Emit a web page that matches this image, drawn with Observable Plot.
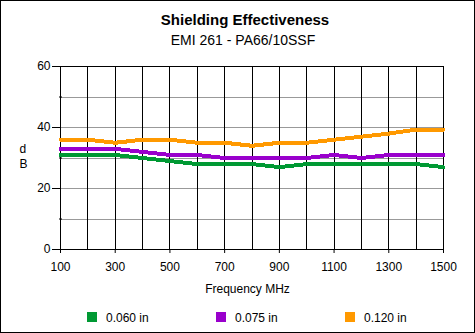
<!DOCTYPE html>
<html><head><meta charset="utf-8">
<script src="https://cdn.jsdelivr.net/npm/d3@7"></script>
<script src="https://cdn.jsdelivr.net/npm/@observablehq/plot@0.6"></script>
<style>
body{margin:0;background:#fff;font-family:"Liberation Sans",Arial,sans-serif;}
#page{position:relative;width:475px;height:333px;overflow:hidden;background:#fff;}
#border{position:absolute;left:0;top:0;width:475px;height:333px;box-sizing:border-box;border:1px solid #000;z-index:5;pointer-events:none;}
.t{position:absolute;white-space:nowrap;color:#000;z-index:3;}
#chart{position:absolute;left:0;top:52px;}
.sw{position:absolute;width:10px;height:10px;z-index:3;}
</style></head><body>
<div id="page">
  <div class="t" style="left:0;width:490px;text-align:center;top:12px;font:bold 15px/15px 'Liberation Sans',Arial,sans-serif;">Shielding Effectiveness</div>
  <div class="t" style="left:0;width:486px;text-align:center;top:33px;font:14px/14px 'Liberation Sans',Arial,sans-serif;">EMI 261 - PA66/10SSF</div>
  <div id="chart"></div>
  <div id="legend"></div>
  <div id="border"></div>
</div>
<script>
// Data
const freqs = [100, 200, 300, 400, 500, 600, 700, 800, 900, 1000, 1100, 1200, 1300, 1400, 1500];
const db060 = [31, 31, 31, 30, 29, 28, 28, 28, 27, 28, 28, 28, 28, 28, 27];
const db075 = [33, 33, 33, 32, 31, 31, 30, 30, 30, 30, 31, 30, 31, 31, 31];
const db120 = [36, 36, 35, 36, 36, 35, 35, 34, 35, 35, 36, 37, 38, 39.3, 39.3];
const seriesNames = ["0.060 in", "0.075 in", "0.120 in"];
const seriesColors = ["#009933", "#9900cc", "#ff9900"];
const xTickLabels = [100, 300, 500, 700, 900, 1100, 1300, 1500];
const xGrid = [200, 300, 400, 500, 600, 700, 800, 900, 1000, 1100, 1200, 1300, 1400];
const yTickLabels = [0, 20, 40, 60];
const yMinorTicks = [10, 30, 50];
const yGrid = [10, 20, 30, 40, 50];

const seriesValues = [db060, db075, db120];
const table = seriesNames.flatMap((name, i) =>
  freqs.map((f, j) => ({series: name, freq: f, db: seriesValues[i][j]})));

const font = "'Liberation Sans', Arial, sans-serif";
const chart = Plot.plot({
  width: 475, height: 281,
  marginTop: 14, marginBottom: 84, marginLeft: 60, marginRight: 32,
  style: {background: "transparent", fontFamily: font, fontSize: "12px", color: "#000"},
  x: {domain: [100, 1500]},
  y: {domain: [0, 60]},
  color: {domain: seriesNames, range: seriesColors},
  marks: [
    Plot.ruleY(yGrid, {stroke: "#999999", strokeWidth: 1, shapeRendering: "crispEdges"}),
    Plot.ruleX(xGrid, {stroke: "#000", strokeWidth: 1, shapeRendering: "crispEdges"}),
    Plot.frame({stroke: "#000", shapeRendering: "crispEdges"}),
    Plot.axisY(yTickLabels, {tickSize: 8, tickPadding: 2, label: null, tickFormat: d => String(d), stroke: "#000", fill: "#000"}),
    Plot.axisY(yMinorTicks, {tickSize: 3, tickFormat: () => "", label: null, dx: 2, stroke: "#000"}),
    Plot.axisX(xTickLabels, {tickSize: 4, tickPadding: 9, label: null, tickFormat: d => String(d), stroke: "#000", fill: "#000"}),
    Plot.line(table, {x: "freq", y: "db", z: "series", stroke: "series", strokeWidth: 4, shapeRendering: "crispEdges"}),
    Plot.text(["d\nB"], {text: d => d, frameAnchor: "left", dx: -41, dy: -2, lineHeight: 1.25, fontSize: 12, fill: "#000"}),
    Plot.text(["Frequency MHz"], {text: d => d, frameAnchor: "bottom", dx: -4.5, dy: 43.5, fontSize: 12, fill: "#000"})
  ]
});
document.getElementById("chart").appendChild(chart);

// Legend
const legend = document.getElementById("legend");
const swX = [87, 216, 345];
seriesNames.forEach((name, i) => {
  const sw = document.createElement("div");
  sw.className = "sw";
  sw.style.left = swX[i] + "px";
  sw.style.top = "312px";
  sw.style.background = seriesColors[i];
  legend.appendChild(sw);
  const lb = document.createElement("div");
  lb.className = "t";
  lb.style.left = (swX[i] + 19) + "px";
  lb.style.top = "311.5px";
  lb.style.font = "12px/12px " + font;
  lb.textContent = name;
  legend.appendChild(lb);
});
</script>
</body></html>
